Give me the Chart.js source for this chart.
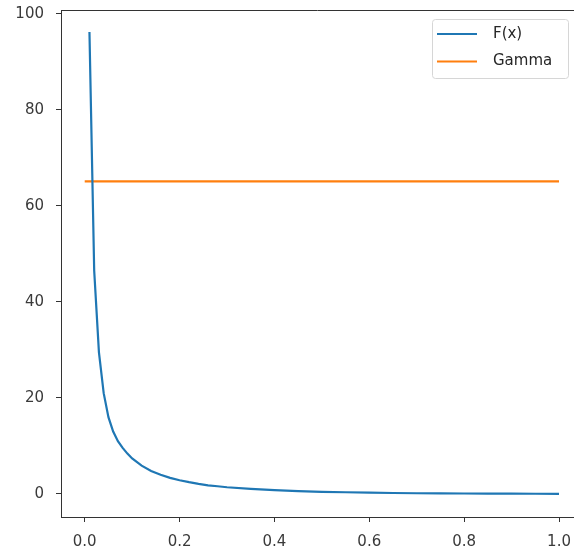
<!DOCTYPE html>
<html>
<head>
<meta charset="utf-8">
<script src="https://cdn.jsdelivr.net/npm/chart.js@4/dist/chart.umd.min.js"></script>
<style>
  html, body { margin: 0; padding: 0; background: #fff; }
  #wrap { width: 574px; height: 550px; }
</style>
</head>
<body>
<div id="wrap"><canvas id="grafica"></canvas></div>
<script>
// valores
const xF = [0.01, 0.02, 0.03, 0.04, 0.05, 0.06, 0.07, 0.08, 0.09, 0.10,
            0.12, 0.14, 0.16, 0.18, 0.20, 0.22, 0.24, 0.26, 0.28, 0.30,
            0.35, 0.40, 0.45, 0.50, 0.55, 0.60, 0.65, 0.70, 0.75, 0.80,
            0.85, 0.90, 0.95, 1.00];
const yF = [96.2, 46.5, 29.5, 21.0, 16.0, 13.0, 11.0, 9.6, 8.4, 7.4,
            5.9, 4.8, 4.0, 3.35, 2.85, 2.45, 2.1, 1.8, 1.6, 1.4,
            1.05, 0.8, 0.6, 0.45, 0.35, 0.27, 0.2, 0.15, 0.12, 0.09,
            0.07, 0.05, 0.04, 0.03];
const xGamma = [0.0, 1.0];
const yGamma = [65.1, 65.1];

const xTicks = [0.0, 0.2, 0.4, 0.6, 0.8, 1.0];
const yTicks = [0, 20, 40, 60, 80, 100];

const FUENTE = '"DejaVu Sans", sans-serif';
const EJE = '#333333';

const pares = (xs, ys) => xs.map((x, i) => ({ x, y: ys[i] }));

// spine superior + leyenda al estilo matplotlib
const extras = {
    id: 'extras',
    afterDraw(chart) {
        const { ctx, chartArea: a } = chart;
        ctx.save();
        ctx.strokeStyle = EJE;
        ctx.lineWidth = 1;
        ctx.beginPath();
        ctx.moveTo(a.left, a.top + 0.5);
        ctx.lineTo(a.right, a.top + 0.5);
        ctx.stroke();

        // marco de la leyenda
        const bx = 432.5, by = 19.5, bw = 136, bh = 59, r = 3;
        ctx.fillStyle = 'rgba(255,255,255,0.8)';
        ctx.strokeStyle = '#d6d6d6';
        ctx.beginPath();
        ctx.moveTo(bx + r, by);
        ctx.arcTo(bx + bw, by, bx + bw, by + bh, r);
        ctx.arcTo(bx + bw, by + bh, bx, by + bh, r);
        ctx.arcTo(bx, by + bh, bx, by, r);
        ctx.arcTo(bx, by, bx + bw, by, r);
        ctx.closePath();
        ctx.fill();
        ctx.stroke();

        ctx.font = '15px ' + FUENTE;
        ctx.textBaseline = 'middle';
        chart.data.datasets.forEach((ds, i) => {
            const yy = 34 + i * 27.5;
            ctx.strokeStyle = ds.borderColor;
            ctx.lineWidth = 2.2;
            ctx.beginPath();
            ctx.moveTo(437, yy);
            ctx.lineTo(477, yy);
            ctx.stroke();
            ctx.fillStyle = '#262626';
            ctx.fillText(ds.label, 493, yy);
        });
        ctx.restore();
    }
};

new Chart(document.getElementById('grafica'), {
    type: 'line',
    data: {
        datasets: [
            {
                label: 'F(x)',
                data: pares(xF, yF),
                borderColor: '#1f77b4',
                borderWidth: 2.2,
                pointRadius: 0,
                tension: 0,
                fill: false
            },
            {
                label: 'Gamma',
                data: pares(xGamma, yGamma),
                borderColor: '#ff7f0e',
                borderWidth: 2.2,
                pointRadius: 0,
                tension: 0,
                fill: false
            }
        ]
    },
    options: {
        responsive: true,
        maintainAspectRatio: false,
        animation: false,
        layout: { padding: { top: 10, right: 0, left: 0, bottom: 0 } },
        plugins: {
            legend: { display: false },
            tooltip: { enabled: false }
        },
        scales: {
            x: {
                type: 'linear',
                min: -0.05,
                max: 1.0316,
                afterBuildTicks: s => { s.ticks = xTicks.map(v => ({ value: v })); },
                afterFit: s => {
                    s.height = 33;
                    s.paddingLeft = 0;
                    s.paddingRight = 0;
                },
                ticks: {
                    color: '#3a3a3a',
                    font: { family: FUENTE, size: 15 },
                    padding: 11,
                    maxRotation: 0,
                    callback: v => v.toFixed(1)
                },
                grid: { drawOnChartArea: false, drawTicks: true, tickLength: 5, color: EJE },
                border: { color: EJE, width: 1 }
            },
            y: {
                type: 'linear',
                min: -4.8,
                max: 100.8,
                afterBuildTicks: s => { s.ticks = yTicks.map(v => ({ value: v })); },
                afterFit: s => {
                    s.width = 61;
                    s.paddingTop = 0;
                    s.paddingBottom = 0;
                },
                ticks: {
                    color: '#3a3a3a',
                    font: { family: FUENTE, size: 15 },
                    padding: 12,
                    callback: v => String(v)
                },
                grid: { drawOnChartArea: false, drawTicks: true, tickLength: 5, color: EJE },
                border: { color: EJE, width: 1 }
            }
        }
    },
    plugins: [extras]
});
</script>
</body>
</html>
